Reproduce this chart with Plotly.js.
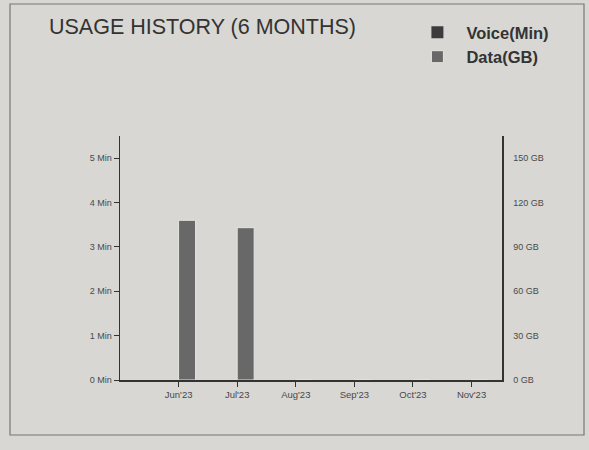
<!DOCTYPE html>
<html>
<head>
<meta charset="utf-8">
<script src="https://cdn.plot.ly/plotly-3.0.1.min.js"></script>
<style>
html,body{margin:0;padding:0;background:#d6d5d1;}
#chart{width:589px;height:450px;}
</style>
</head>
<body>
<div id="chart"></div>
<script>
const months = ["Jun'23", "Jul'23", "Aug'23", "Sep'23", "Oct'23", "Nov'23"];
const voiceMin = [0, 0, 0, 0, 0, 0];
const dataGB = [108, 103, 0, 0, 0, 0];
const voiceTicks = [0, 1, 2, 3, 4, 5];
const dataTicks = [0, 30, 60, 90, 120, 150];

const traces = [
  {
    type: 'bar', name: 'Voice(Min)', x: months, y: voiceMin,
    yaxis: 'y', offsetgroup: 'voice', legendgroup: 'voice',
    marker: {color: '#3c3c3c', line: {width: 0}},
    hoverinfo: 'skip'
  },
  {
    type: 'bar', name: 'Data(GB)', x: months, y: dataGB,
    yaxis: 'y2', offsetgroup: 'data', legendgroup: 'data',
    marker: {color: '#686868', line: {color: '#e6e5e1', width: 1}},
    hoverinfo: 'skip'
  }
];

const layout = {
  width: 589, height: 450,
  paper_bgcolor: '#d8d7d3',
  plot_bgcolor: 'rgba(0,0,0,0)',
  margin: {l: 120, r: 87, t: 136, b: 70},
  barmode: 'group',
  bargap: 0.42,
  bargroupgap: 0,
  font: {family: 'Liberation Sans, Arial, sans-serif', color: '#444'},
  title: {
    text: 'USAGE HISTORY (6 MONTHS)',
    x: 49/589, xanchor: 'left', y: 1 - 26/450, yanchor: 'middle',
    font: {size: 21.5, color: '#333', family: 'Liberation Sans, Arial, sans-serif'}
  },
  showlegend: true,
  legend: {
    x: 0.755, xanchor: 'left', y: 1 - 15/450, yref: 'container', yanchor: 'top',
    bgcolor: 'rgba(0,0,0,0)',
    itemwidth: 48,
    font: {size: 16.5, color: '#333', family: 'Liberation Sans, Arial, sans-serif', weight: 'bold'},
    tracegroupgap: 0
  },
  xaxis: {
    type: 'category',
    range: [-1, 5.52],
    showline: true, linecolor: '#333', linewidth: 1.5,
    ticks: 'outside', ticklen: 5, tickcolor: '#333', tickwidth: 1,
    tickfont: {size: 9.5, color: '#484848'},
    showgrid: false, zeroline: false, fixedrange: true
  },
  yaxis: {
    range: [0, 5.5],
    tickvals: voiceTicks, ticktext: voiceTicks.map(v => v + ' Min'),
    showline: true, linecolor: '#333', linewidth: 1.5,
    ticks: 'outside', ticklen: 5, tickcolor: '#333', tickwidth: 1,
    tickfont: {size: 9, color: '#4a4a4a'},
    showgrid: false, zeroline: false, fixedrange: true
  },
  yaxis2: {
    overlaying: 'y', side: 'right',
    range: [0, 165],
    tickvals: dataTicks, ticktext: dataTicks.map(v => v + ' GB'),
    showline: true, linecolor: '#333', linewidth: 1.5,
    ticks: '', ticklabelstandoff: 8,
    tickfont: {size: 9, color: '#4a4a4a'},
    showgrid: false, zeroline: false, fixedrange: true
  },
  shapes: [
    {type: 'rect', xref: 'paper', yref: 'paper',
     x0: (10-120)/382, x1: (584-120)/382,
     y0: (380-435)/244, y1: (380-4)/244,
     line: {color: '#777', width: 1.2}, fillcolor: 'rgba(0,0,0,0)', layer: 'below'}
  ]
};

Plotly.newPlot('chart', traces, layout, {displayModeBar: false, staticPlot: true});
</script>
</body>
</html>
